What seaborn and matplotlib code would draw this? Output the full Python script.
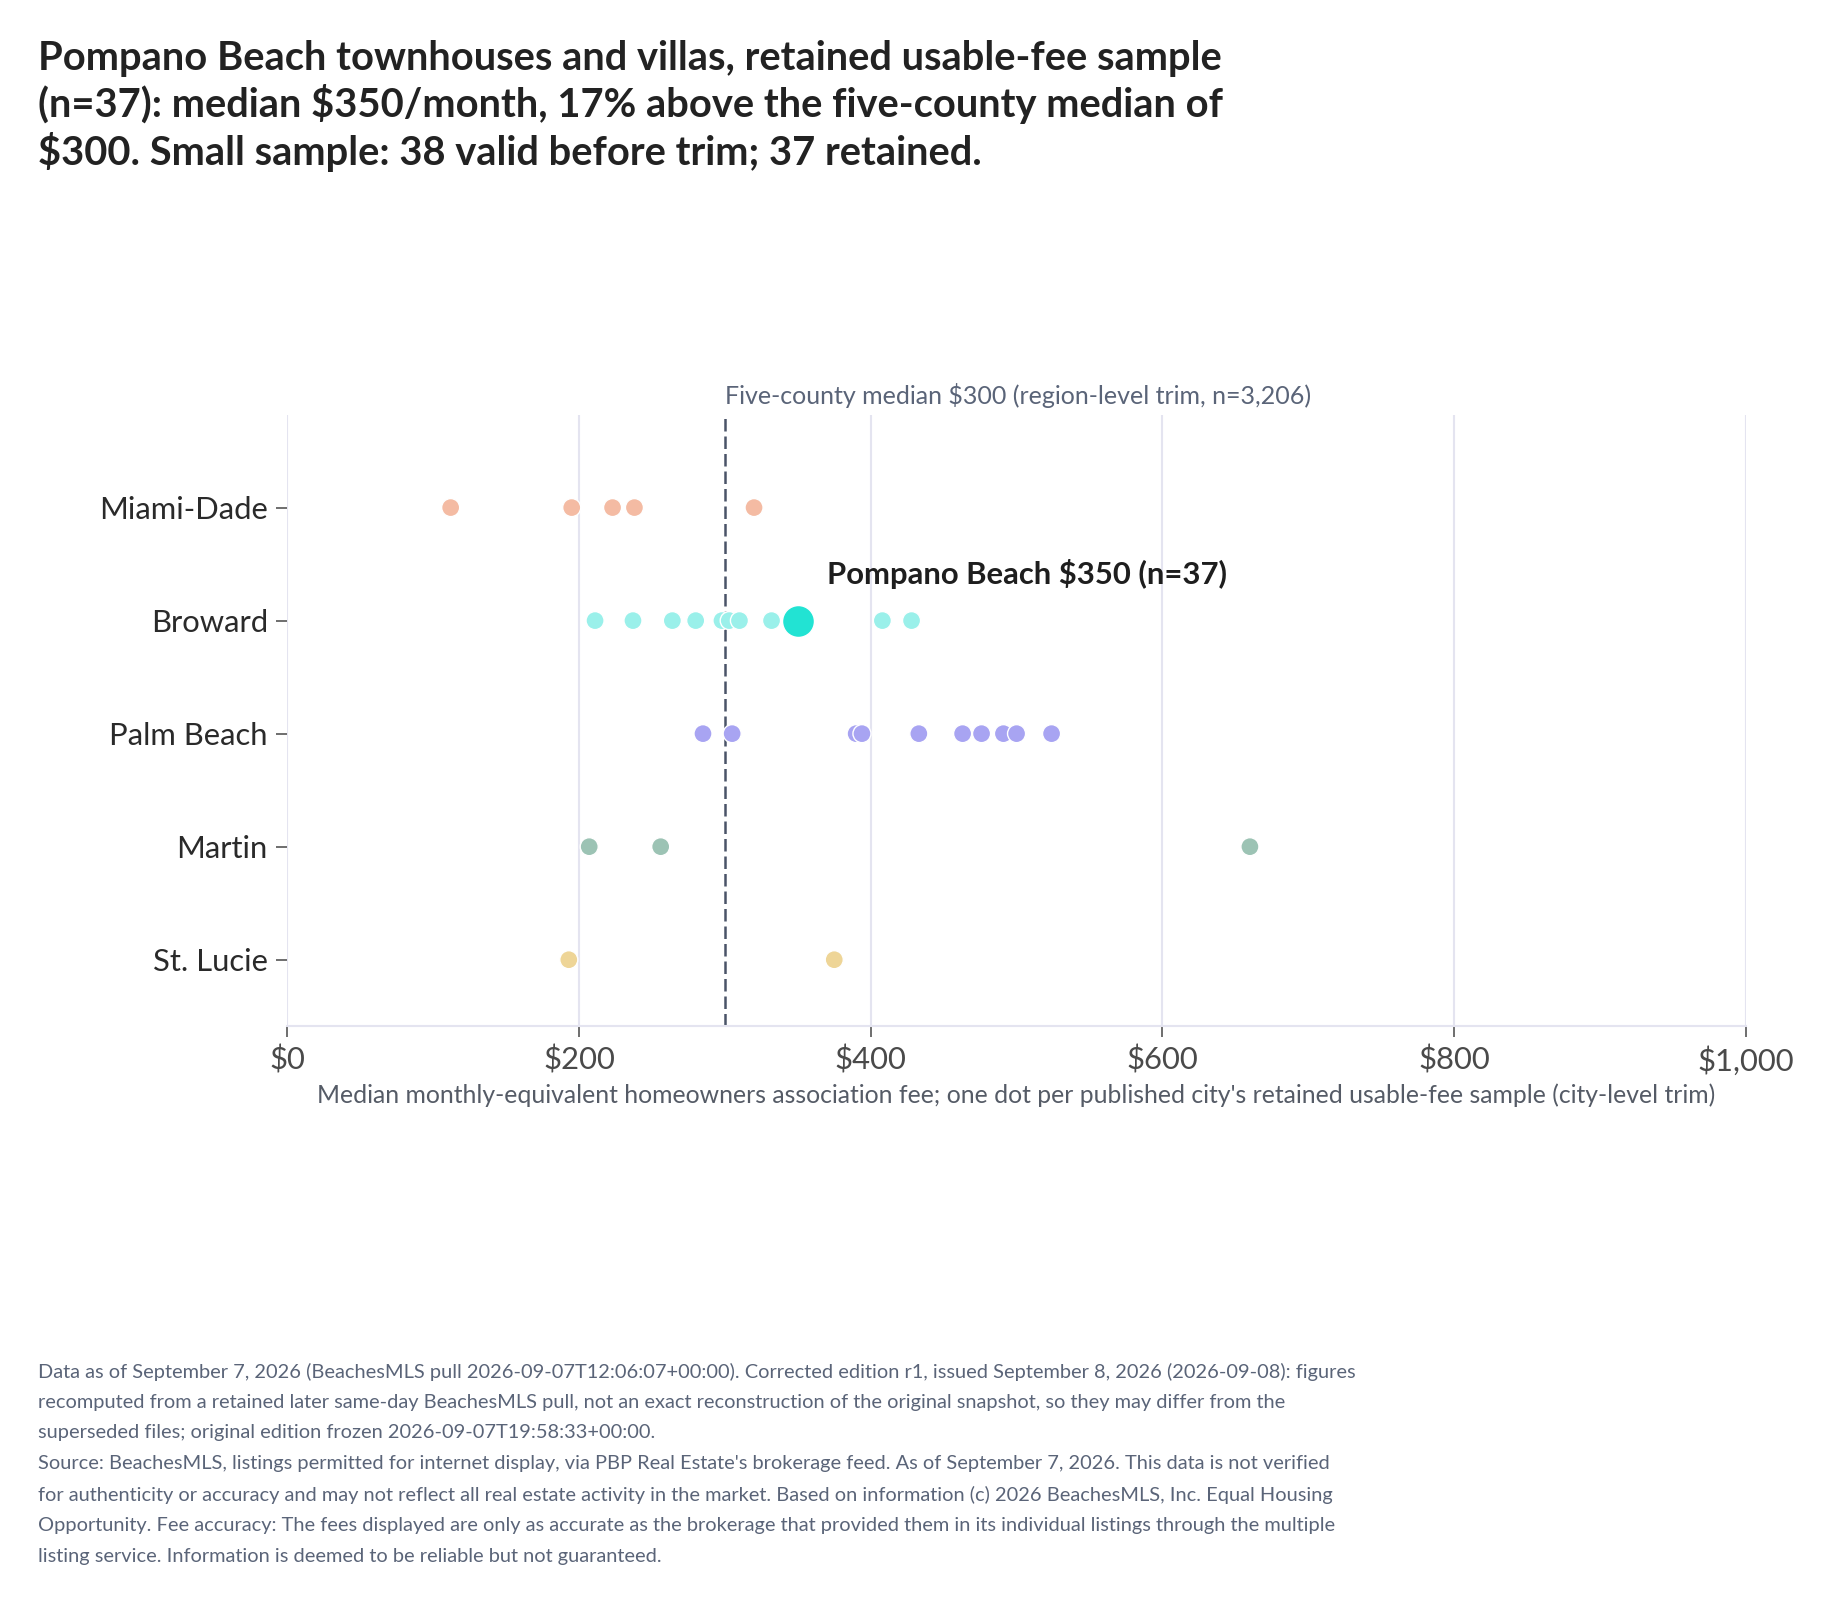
import pandas as pd
import seaborn as sns
import matplotlib.pyplot as plt

# ---- data ----
counties = ["Miami-Dade", "Broward", "Palm Beach", "Martin", "St. Lucie"]
miami_dade = [112, 195, 223, 238, 320]
broward = [211, 237, 264, 280, 298, 303, 310, 332, 408, 428]
palm_beach = [285, 305, 390, 394, 433, 463, 476, 491, 500, 524]
martin = [207, 256, 660]
st_lucie = [193, 375]
pompano_fee = 350
pompano_n = 37
region_median = 300

colors = ["#F4BBA3", "#9AF0EA", "#A8A4F2", "#9CC3B4", "#EED597"]
highlight = "#22E3D3"

title = ("Pompano Beach townhouses and villas, retained usable-fee sample\n"
         "(n=37): median $350/month, 17% above the five-county median of\n"
         "$300. Small sample: 38 valid before trim; 37 retained.")
xlab = ("Median monthly-equivalent homeowners association fee; one dot per published "
        "city's retained usable-fee sample (city-level trim)")
note = ("Data as of September 7, 2026 (BeachesMLS pull 2026-09-07T12:06:07+00:00). Corrected edition r1, issued September 8, 2026 (2026-09-08): figures\n"
        "recomputed from a retained later same-day BeachesMLS pull, not an exact reconstruction of the original snapshot, so they may differ from the\n"
        "superseded files; original edition frozen 2026-09-07T19:58:33+00:00.\n"
        "Source: BeachesMLS, listings permitted for internet display, via PBP Real Estate's brokerage feed. As of September 7, 2026. This data is not verified\n"
        "for authenticity or accuracy and may not reflect all real estate activity in the market. Based on information (c) 2026 BeachesMLS, Inc. Equal Housing\n"
        "Opportunity. Fee accuracy: The fees displayed are only as accurate as the brokerage that provided them in its individual listings through the multiple\n"
        "listing service. Information is deemed to be reliable but not guaranteed.")

rows = []
for name, vals in zip(counties, [miami_dade, broward, palm_beach, martin, st_lucie]):
    for v in vals:
        rows.append({"county": name, "fee": v})
df = pd.DataFrame(rows)
hl = pd.DataFrame({"county": ["Broward"], "fee": [pompano_fee]})

sns.set_theme(style="white")
plt.rcParams["font.family"] = ["Lato", "DejaVu Sans"]

fig = plt.figure(figsize=(18.3, 16.05), dpi=100)
ax = fig.add_axes([0.157, 0.3605, 0.797, 0.381])

sns.stripplot(data=df, x="fee", y="county", hue="county", order=counties,
              hue_order=counties, palette=colors, jitter=False, size=13,
              linewidth=1, edgecolor="white", legend=False, ax=ax, zorder=3)
sns.stripplot(data=hl, x="fee", y="county", order=counties, color=highlight,
              jitter=False, size=23, linewidth=1, edgecolor="white",
              legend=False, ax=ax, zorder=4)

ax.axvline(region_median, color="#4A5468", lw=1.8, ls=(0, (5, 2)), zorder=2)
ax.text(region_median, 1.011, "Five-county median $300 (region-level trim, n=3,206)",
        transform=ax.get_xaxis_transform(), ha="left", va="bottom",
        fontsize=18, color="#5A6478")
ax.annotate(f"Pompano Beach ${pompano_fee} (n={pompano_n})", xy=(pompano_fee, 1),
            xytext=(21, 22.5), textcoords="offset points", ha="left", va="bottom",
            fontsize=22.3, fontweight="bold", color="#1E1E1E")

ax.set_xlim(0, 1000)
ax.set_ylim(4.59, -0.82)
ax.set_xticks(range(0, 1001, 200))
ax.set_xticklabels([f"${v:,}" for v in range(0, 1001, 200)])
ax.grid(axis="x", color="#E4E4F0", lw=1.5, zorder=0)
ax.grid(axis="y", visible=False)
for s in ["top", "right", "left"]:
    ax.spines[s].set_visible(False)
ax.spines["bottom"].set_color("#E4E4F0")
ax.spines["bottom"].set_linewidth(1.5)
ax.tick_params(axis="x", length=8, width=1.2, color="#555555", labelsize=22.3,
               labelcolor="#4A4A4A", pad=6, bottom=True)
ax.tick_params(axis="y", length=8, width=1.2, color="#555555", labelsize=22.3,
               labelcolor="#2A2A2A", pad=6, left=True)
ax.set_ylabel("")
ax.set_xlabel(xlab, fontsize=17.8, color="#555B66", labelpad=6)

fig.text(0.021, 0.975, title, ha="left", va="top", fontsize=28.7, fontweight="bold",
         color="#222222", linespacing=1.22)
fig.text(0.021, 0.151, note, ha="left", va="top", fontsize=14.4, color="#5A6478",
         linespacing=1.95)

fig.savefig("out.png", dpi=100, facecolor="white")
